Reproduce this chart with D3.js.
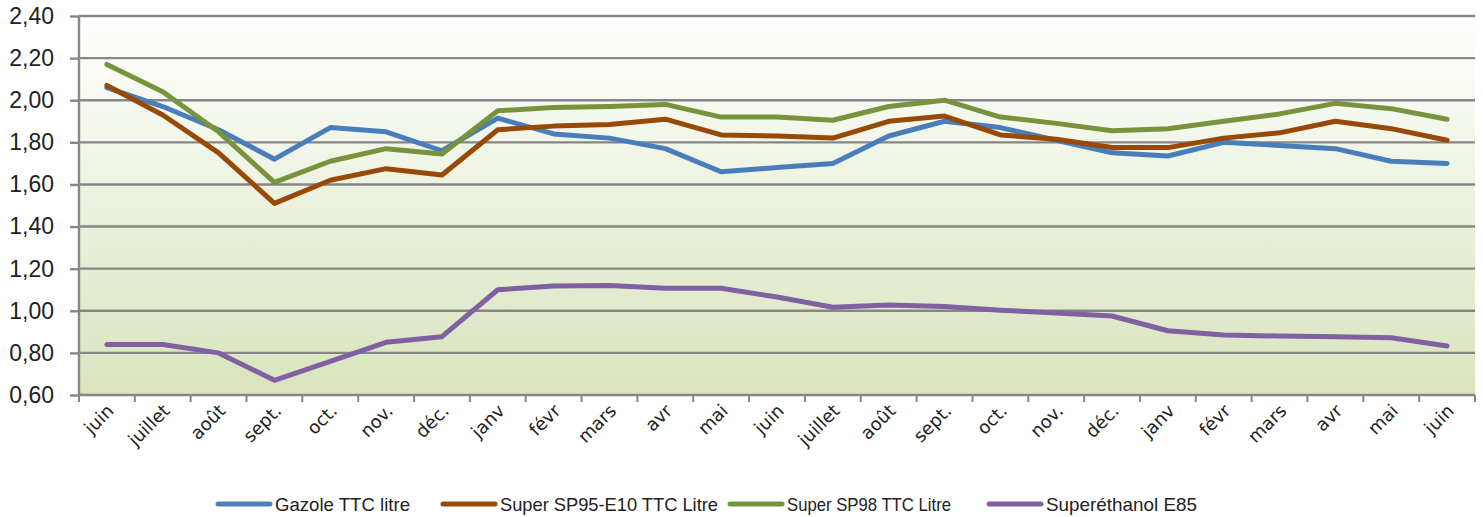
<!DOCTYPE html>
<html>
<head>
<meta charset="utf-8">
<script src="https://cdn.jsdelivr.net/npm/d3@7"></script>
<style>
  body { margin: 0; background: #fff; }
  svg { display: block; }
</style>
</head>
<body>
<div id="chart"></div>
<script>
// months, two years of monthly prices
const months = ["juin","juillet","août","sept.","oct.","nov.","déc.","janv","févr","mars","avr","mai",
                "juin","juillet","août","sept.","oct.","nov.","déc.","janv","févr","mars","avr","mai","juin"];

const gazole = [2.06,1.97,1.86,1.72,1.87,1.85,1.76,1.915,1.84,1.82,1.77,1.66,
                1.68,1.70,1.83,1.90,1.87,1.81,1.75,1.735,1.80,1.785,1.77,1.71,1.70];
const sp95 = [2.07,1.93,1.75,1.51,1.62,1.675,1.645,1.86,1.877,1.885,1.91,1.835,
              1.83,1.82,1.90,1.925,1.835,1.815,1.775,1.775,1.82,1.845,1.90,1.865,1.81];
const sp98 = [2.17,2.04,1.85,1.61,1.71,1.77,1.745,1.95,1.965,1.97,1.98,1.92,
              1.92,1.905,1.97,2.00,1.92,1.89,1.855,1.865,1.90,1.935,1.985,1.96,1.91];
const e85 = [0.84,0.84,0.80,0.67,0.76,0.85,0.877,1.10,1.118,1.12,1.107,1.107,
             1.065,1.017,1.027,1.02,1.003,0.99,0.975,0.905,0.885,0.88,0.877,0.872,0.833];

const seriesNames = ["Gazole TTC litre","Super SP95-E10 TTC Litre","Super SP98 TTC Litre","Superéthanol E85"];
const seriesColors = ["#4a7ebb","#984807","#77933c","#7f60a1"];
const yTicks = [0.6,0.8,1.0,1.2,1.4,1.6,1.8,2.0,2.2,2.4];

const width = 1483, height = 517;
const mLeft = 79, mRight = 1475, mTop = 16, mBottom = 395;

const svg = d3.select("#chart").append("svg")
  .attr("width", width)
  .attr("height", height);

const defs = svg.append("defs");
const grad = defs.append("linearGradient")
  .attr("id", "bg").attr("x1", 0).attr("y1", 0).attr("x2", 0).attr("y2", 1);
grad.append("stop").attr("offset", "0%").attr("stop-color", "#ffffff");
grad.append("stop").attr("offset", "100%").attr("stop-color", "#d8e4bd");

const x = d3.scaleBand().domain(d3.range(months.length)).range([mLeft, mRight]);
const y = d3.scaleLinear().domain([0.6, 2.4]).range([mBottom, mTop]);

svg.append("rect")
  .attr("x", mLeft).attr("y", mTop)
  .attr("width", mRight - mLeft).attr("height", mBottom - mTop)
  .attr("fill", "url(#bg)");

// gridlines + y labels
const fmt = d => d3.format(".2f")(d).replace(".", ",");
const yAxis = svg.append("g")
  .attr("transform", `translate(${mLeft},0)`)
  .call(d3.axisLeft(y).tickValues(yTicks).tickSize(9).tickPadding(16).tickFormat(fmt));
yAxis.select(".domain").remove();
yAxis.selectAll("line").attr("stroke", "#868686").attr("stroke-width", 2.4);
yAxis.selectAll("text")
  .attr("font-family", "'Liberation Sans', Arial, sans-serif")
  .attr("font-size", 23).attr("fill", "#222");

svg.append("g").selectAll("line")
  .data(yTicks)
  .enter().append("line")
    .attr("x1", mLeft).attr("x2", mRight)
    .attr("y1", d => y(d)).attr("y2", d => y(d))
    .attr("stroke", "#868686").attr("stroke-width", 2.4);

// vertical axis line
svg.append("line")
  .attr("x1", mLeft).attr("x2", mLeft)
  .attr("y1", mTop).attr("y2", mBottom + 1)
  .attr("stroke", "#868686").attr("stroke-width", 2.4);

// x tick marks at category boundaries
const bounds = d3.range(months.length + 1).map(i => mLeft + i * x.step());
svg.append("g").selectAll("line")
  .data(bounds)
  .enter().append("line")
    .attr("x1", d => d).attr("x2", d => d)
    .attr("y1", mBottom).attr("y2", mBottom + 7)
    .attr("stroke", "#868686").attr("stroke-width", 2);

// x labels
svg.append("g").selectAll("text")
  .data(months)
  .enter().append("text")
    .attr("transform", (d, i) => `translate(${x(i) + x.bandwidth() / 2 + 8},${mBottom + 17}) rotate(-45)`)
    .attr("text-anchor", "end")
    .attr("font-family", "'DejaVu Sans', Verdana, sans-serif")
    .attr("font-size", 18)
    .attr("fill", "#222")
    .text(d => d);

// lines
const line = d3.line()
  .x((d, i) => x(i) + x.bandwidth() / 2)
  .y(d => y(d));

[gazole, sp95, sp98, e85].forEach((s, k) => {
  svg.append("path")
    .datum(s)
    .attr("d", line)
    .attr("fill", "none")
    .attr("stroke", seriesColors[k])
    .attr("stroke-width", 5)
    .attr("stroke-linejoin", "round")
    .attr("stroke-linecap", "round");
});

// legend (condensed text, squeezed to fit)
const legendX = [218, 443, 730, 989];
const legendW = [135, 218, 164, 151];
const legend = svg.append("g");
seriesNames.forEach((name, k) => {
  legend.append("line")
    .attr("x1", legendX[k]).attr("x2", legendX[k] + 52)
    .attr("y1", 504).attr("y2", 504)
    .attr("stroke", seriesColors[k]).attr("stroke-width", 5)
    .attr("stroke-linecap", "round");
  legend.append("text")
    .attr("x", legendX[k] + 57).attr("y", 511)
    .attr("font-family", "'Liberation Sans', Arial, sans-serif")
    .attr("font-size", 19)
    .attr("textLength", legendW[k])
    .attr("lengthAdjust", "spacingAndGlyphs")
    .attr("fill", "#222")
    .text(name);
});
</script>
</body>
</html>
